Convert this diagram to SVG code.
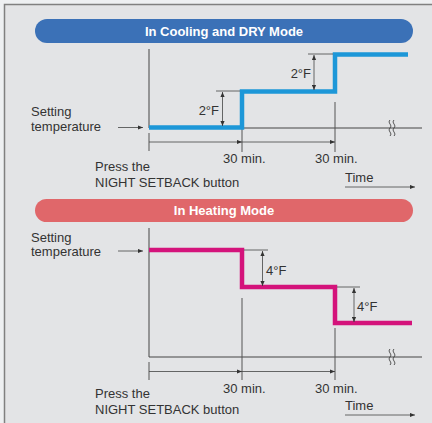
<svg xmlns="http://www.w3.org/2000/svg" width="432" height="423" viewBox="0 0 432 423">
<style>
text{font-family:"Liberation Sans",Arial,sans-serif;fill:#333;font-size:13px}
.h{font-weight:bold;fill:#fff;font-size:13px;text-anchor:middle}
.ax{stroke:#444;stroke-width:1;fill:none}
.tk{stroke:#555;stroke-width:1;fill:none}
.dm{stroke:#444;stroke-width:0.8;fill:none}
.cool{stroke:#1d97d8;stroke-width:4.5;fill:none}
.heat{stroke:#d4137b;stroke-width:4.5;fill:none}
.sq{stroke:#444;stroke-width:0.9;fill:none}
</style>
<defs>
<marker id="ah" viewBox="0 0 8 6" refX="8" refY="3" markerWidth="8" markerHeight="6" markerUnits="userSpaceOnUse" orient="auto-start-reverse">
<path d="M0,0.5 L8,3 L0,5.5 z" fill="#333"/>
</marker>
<marker id="da" viewBox="0 0 6 6" refX="6" refY="3" markerWidth="5" markerHeight="5" markerUnits="userSpaceOnUse" orient="auto-start-reverse">
<path d="M0,0.5 L6,3 L0,5.5 z" fill="#333"/>
</marker>
</defs>
<rect x="0" y="0" width="432" height="423" fill="#eef0f2"/>
<rect x="4.5" y="4.5" width="440" height="430" fill="#e3e4e6" stroke="#808080" stroke-width="1.5"/>

<g id="cooling-header">
<rect x="35" y="19" width="378" height="24" rx="12" fill="#3b71b7"/>
<text class="h" x="224" y="35.5">In Cooling and DRY Mode</text>
</g>

<g id="cooling-chart">
<path class="ax" d="M149,49 V128 M149,128 H422"/>
<path class="tk" d="M149,133 V151 M242,102 V152 M335,102 V152"/>
<path class="sq" d="M390,120 c-3,3 3,5 0,8 c-3,3 3,5 0,8 M394,120 c-3,3 3,5 0,8 c-3,3 3,5 0,8"/>
<path class="cool" d="M149,127.5 H242 V91.5 H335 V54.5 H408"/>
</g>

<g id="cooling-dims">
<path class="dm" d="M216,91 H240"/>
<path class="dm" d="M222.5,92 V126" marker-start="url(#da)" marker-end="url(#da)"/>
<text x="219" y="115" text-anchor="end">2°F</text>
<path class="dm" d="M308,54 H333"/>
<path class="dm" d="M314,55 V90" marker-start="url(#da)" marker-end="url(#da)"/>
<text x="311" y="78" text-anchor="end">2°F</text>
</g>

<g id="cooling-labels">
<text x="31" y="116">Setting</text>
<text x="31" y="130.5">temperature</text>
<path class="dm" d="M118,127.5 H143" marker-end="url(#da)"/>
<path class="dm" d="M149,142 H242" marker-end="url(#da)"/>
<path class="dm" d="M242,142 H335" marker-end="url(#da)"/>
<text x="223" y="163">30 min.</text>
<text x="315" y="163">30 min.</text>
<text x="95" y="171">Press the</text>
<text x="95" y="187">NIGHT SETBACK button</text>
<text x="345" y="182">Time</text>
<path class="dm" d="M345,187 H415" marker-end="url(#da)"/>
</g>

<g id="heating-header">
<rect x="35" y="199" width="378" height="23" rx="11.5" fill="#e0676a"/>
<text class="h" x="224" y="214.5">In Heating Mode</text>
</g>

<g id="heating-chart">
<path class="ax" d="M149,228 V357 M149,357 H422"/>
<path class="tk" d="M149,362 V380 M242,298 V380 M335,328 V380"/>
<path class="sq" d="M390,349 c-3,3 3,5 0,8 c-3,3 3,5 0,8 M394,349 c-3,3 3,5 0,8 c-3,3 3,5 0,8"/>
<path class="heat" d="M149,250 H242 V287 H335 V323 H412"/>
</g>

<g id="heating-dims">
<path class="dm" d="M244,250 H268"/>
<path class="dm" d="M262.5,251 V286" marker-start="url(#da)" marker-end="url(#da)"/>
<text x="266" y="275">4°F</text>
<path class="dm" d="M337,287 H360"/>
<path class="dm" d="M354,288 V322" marker-start="url(#da)" marker-end="url(#da)"/>
<text x="357" y="311">4°F</text>
</g>

<g id="heating-labels">
<text x="31" y="241.5">Setting</text>
<text x="31" y="255.5">temperature</text>
<path class="dm" d="M118,251 H143" marker-end="url(#da)"/>
<path class="dm" d="M149,371.5 H242" marker-end="url(#da)"/>
<path class="dm" d="M242,371.5 H335" marker-end="url(#da)"/>
<text x="223" y="393">30 min.</text>
<text x="315" y="393">30 min.</text>
<text x="95" y="398">Press the</text>
<text x="95" y="414">NIGHT SETBACK button</text>
<text x="345" y="410">Time</text>
<path class="dm" d="M345,415 H415" marker-end="url(#da)"/>
</g>
</svg>
